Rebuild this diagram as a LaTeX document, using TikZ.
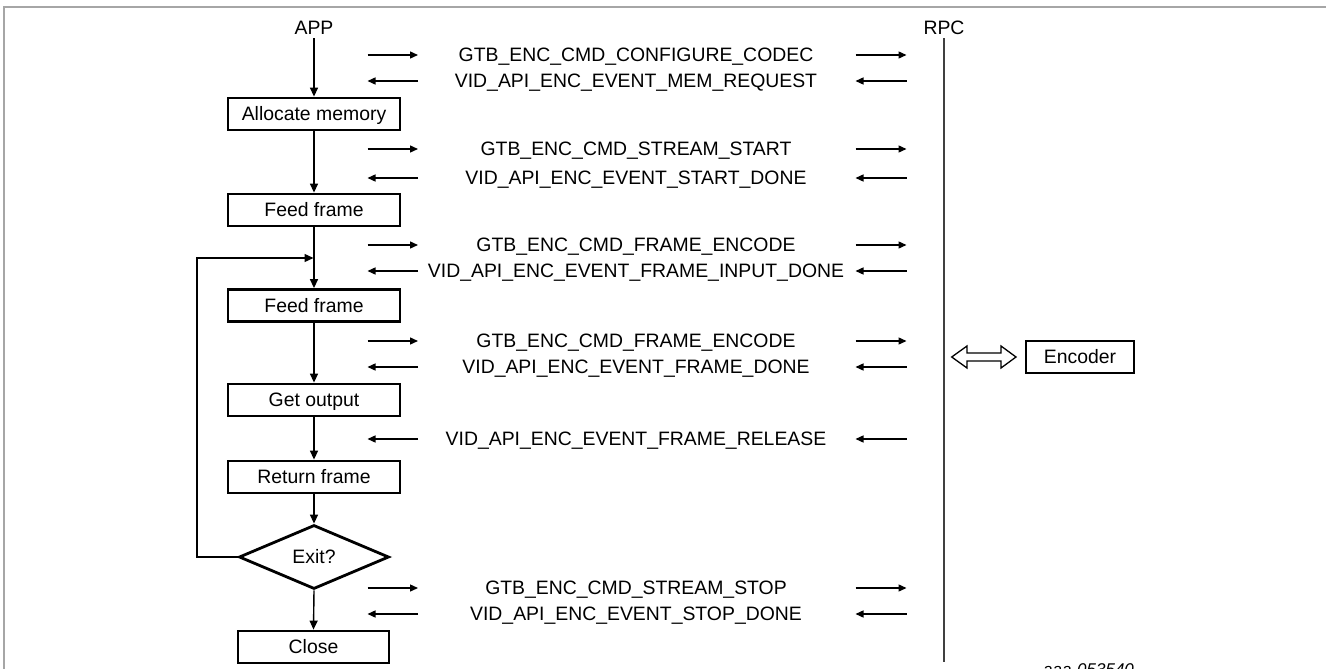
\documentclass[tikz,border=0pt]{standalone}
\usepackage{fontspec}
\setmainfont{Liberation Sans}
\usetikzlibrary{arrows.meta,shapes.geometric}
\begin{document}
\begin{tikzpicture}[x=1pt,y=-1pt,
  every node/.style={font=\fontsize{19.4}{22}\selectfont, text height=13.8pt, text depth=0pt},
  lbl/.style={inner sep=3pt},
  box/.style={draw, line width=2.8pt, minimum width=172pt, minimum height=32pt, inner sep=0pt},
  dec/.style={draw, diamond, line width=2.8pt, minimum width=150pt, minimum height=64pt, inner sep=0pt, aspect=2.3},
  flow/.style={line width=1.4pt, -{Triangle[length=9pt,width=8pt]}},
  msg/.style={line width=1.4pt, -{Triangle[length=8pt,width=7pt]}},
  life/.style={line width=1.7pt, draw=black!75},
  msgtext/.style={inner sep=0pt}
]
\useasboundingbox (0,0) rectangle (1326,669);
\draw[black!35, line width=1.3pt] (4,669) -- (4,7) -- (1326,7);

% lifelines
\node[lbl] (app) at (314,28) {APP};
\node[lbl] (rpc) at (944,28) {RPC};
\coordinate (rpcend) at (944,662);
\draw[life] (rpc.south) -- (rpcend);

% flow boxes
\node[box] (alloc) at (314,114) {Allocate memory};
\node[box] (feedA) at (314,210) {Feed frame};
\node[box] (feedB) at (314,305.5) {Feed frame};
\node[box] (getout) at (314,400) {Get output};
\node[box] (retfr) at (314,477) {Return frame};
\node[dec] (exit) at (314,557) {Exit?};
\node[box, minimum width=151pt] (close) at (313.5,647) {Close};

\draw[flow] (app.south) -- (alloc.north);
\draw[flow] (alloc.south) -- (feedA.north);
\draw[flow] (feedA.south) -- (feedB.north);
\draw[flow] (feedB.south) -- (getout.north);
\draw[flow] (getout.south) -- (retfr.north);
\draw[flow] (retfr.south) -- (exit.north);
\draw[flow] (exit.south) -- (close.north);

% loop back
\coordinate (loopx) at (197,557);
\coordinate (loopin) at (313.5,258);
\draw[flow] (exit.west) -- (loopx) |- (loopin);

% messages
\foreach \i/\y/\t/\d in {
  1/55/GTB\_ENC\_CMD\_CONFIGURE\_CODEC/r,
  2/81/VID\_API\_ENC\_EVENT\_MEM\_REQUEST/l,
  3/149/GTB\_ENC\_CMD\_STREAM\_START/r,
  4/178/VID\_API\_ENC\_EVENT\_START\_DONE/l,
  5/245/GTB\_ENC\_CMD\_FRAME\_ENCODE/r,
  6/271/VID\_API\_ENC\_EVENT\_FRAME\_INPUT\_DONE/l,
  7/341/GTB\_ENC\_CMD\_FRAME\_ENCODE/r,
  8/367/VID\_API\_ENC\_EVENT\_FRAME\_DONE/l,
  9/439/VID\_API\_ENC\_EVENT\_FRAME\_RELEASE/l,
  10/588/GTB\_ENC\_CMD\_STREAM\_STOP/r,
  11/614/VID\_API\_ENC\_EVENT\_STOP\_DONE/l}{
  \node[msgtext] (m\i) at (636,\y) {\t};
  \coordinate (la\i) at (367.5,\y);
  \coordinate (lb\i) at (418,\y);
  \coordinate (ra\i) at (855.5,\y);
  \coordinate (rb\i) at (906.5,\y);
  \if r\d
    \draw[msg] (la\i) -- (lb\i);
    \draw[msg] (ra\i) -- (rb\i);
  \else
    \draw[msg] (lb\i) -- (la\i);
    \draw[msg] (rb\i) -- (ra\i);
  \fi
}

% encoder
\node[box, minimum width=108pt] (enc) at (1080,357) {Encoder};
\draw[line width=1.3pt, line join=miter]
  (951.7,357) -- (967,346) -- (967,353) -- (1001,353) -- (1001,346) -- (1016,357)
  -- (1001,368) -- (1001,361) -- (967,361) -- (967,368) -- cycle;

\node[anchor=base west, inner sep=0pt, font=\fontsize{17}{20}\selectfont\itshape] (ref) at (1043,675.5) {aaa-053540};
\end{tikzpicture}
\end{document}
